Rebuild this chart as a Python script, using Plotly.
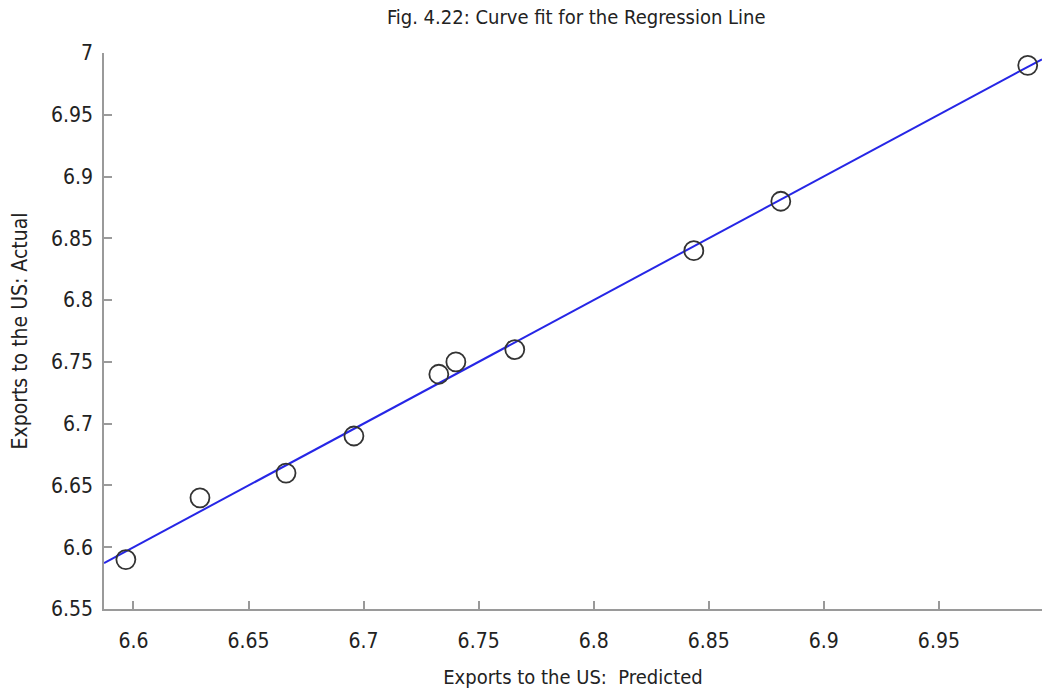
import numpy as np
import plotly.graph_objects as go

predicted = [6.5967, 6.6289, 6.6663, 6.6958, 6.7327, 6.7401, 6.7657, 6.8435, 6.8813, 6.9886]
actual = [6.59, 6.64, 6.66, 6.69, 6.74, 6.75, 6.76, 6.84, 6.88, 6.99]
x_ticks = [6.6, 6.65, 6.7, 6.75, 6.8, 6.85, 6.9, 6.95]
y_ticks = [6.55, 6.6, 6.65, 6.7, 6.75, 6.8, 6.85, 6.9, 6.95, 7]
x_range = [6.5872, 6.9948]
y_range = [6.55, 7.0]

slope, intercept = np.polyfit(predicted, actual, 1)
line_x = np.array(x_range)
line_y = slope * line_x + intercept

FONT = "DejaVu Sans Condensed, Liberation Sans Narrow, Open Sans, sans-serif"

fig = go.Figure()
fig.add_trace(go.Scatter(x=line_x, y=line_y, mode="lines",
                         line=dict(color="#2626e6", width=2), hoverinfo="skip"))
fig.add_trace(go.Scatter(x=predicted, y=actual, mode="markers",
                         marker=dict(symbol="circle-open", size=19,
                                     line=dict(color="#333333", width=1.8),
                                     color="#333333")))

fig.update_layout(
    width=1042, height=694,
    margin=dict(l=104, r=0, t=53, b=85),
    paper_bgcolor="white", plot_bgcolor="white",
    showlegend=False,
    font=dict(family=FONT, color="#222222", size=21),
    title=dict(text="Fig. 4.22: Curve fit for the Regression Line",
               x=0.553, xanchor="center", y=0.975, yanchor="middle",
               font=dict(size=20, family=FONT, color="#222222")),
)
fig.update_xaxes(range=x_range, tickvals=x_ticks, ticktext=[f"{v:g}" for v in x_ticks],
                 showgrid=False, zeroline=False, showline=True, linecolor="#9a9a9a",
                 linewidth=1.5, ticks="inside", ticklen=8, tickcolor="#9a9a9a", tickwidth=1.5,
                 ticklabelstandoff=12,
                 title=dict(text="Exports to the US:  Predicted", standoff=18,
                            font=dict(size=20, family=FONT)))
fig.update_yaxes(range=y_range, tickvals=y_ticks, ticktext=[f"{v:g}" for v in y_ticks],
                 showgrid=False, zeroline=False, showline=True, linecolor="#9a9a9a",
                 linewidth=1.5, ticks="inside", ticklen=8, tickcolor="#9a9a9a", tickwidth=1.5,
                 ticklabelstandoff=5,
                 title=dict(text="Exports to the US: Actual", standoff=18,
                            font=dict(size=21, family=FONT)))

fig.write_html("out.html")
